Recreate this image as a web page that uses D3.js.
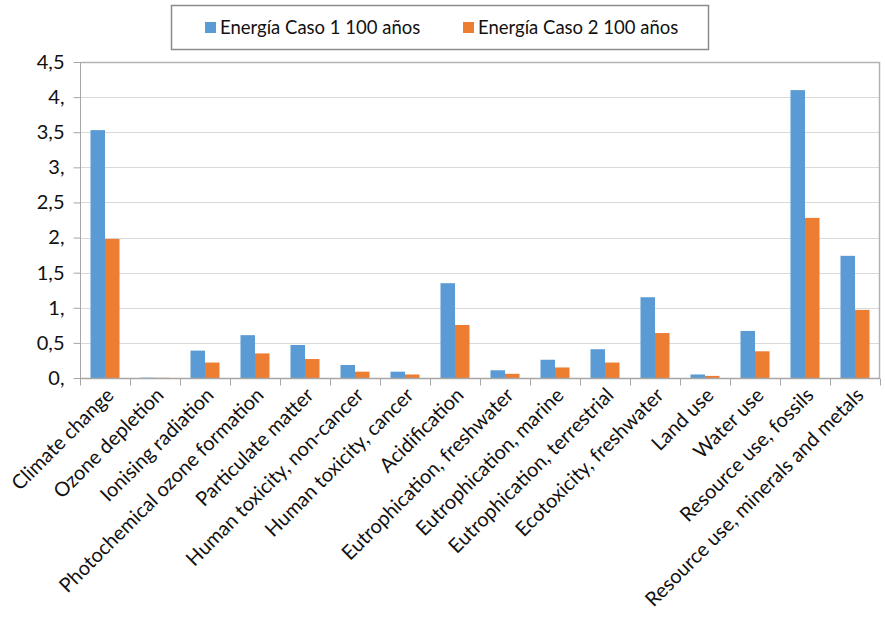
<!DOCTYPE html>
<html>
<head>
<meta charset="utf-8">
<script src="https://cdn.jsdelivr.net/npm/d3@7"></script>
<style>
  html, body { margin: 0; padding: 0; background: #fff; }
  svg { display: block; font-family: Lato, "Open Sans", sans-serif; }
</style>
</head>
<body>
<svg id="chart" width="885" height="619"></svg>
<script>
// Impact categories (x axis)
const categories = [
  "Climate change",
  "Ozone depletion",
  "Ionising radiation",
  "Photochemical ozone formation",
  "Particulate matter",
  "Human toxicity, non-cancer",
  "Human toxicity, cancer",
  "Acidification",
  "Eutrophication, freshwater",
  "Eutrophication, marine",
  "Eutrophication, terrestrial",
  "Ecotoxicity, freshwater",
  "Land use",
  "Water use",
  "Resource use, fossils",
  "Resource use, minerals and metals"
];

const seriesNames = ["Energía Caso 1 100 años", "Energía Caso 2 100 años"];

const caso1 = [3.53, 0.005, 0.39, 0.61, 0.47, 0.185, 0.09, 1.35, 0.11, 0.26, 0.41, 1.15, 0.05, 0.67, 4.10, 1.74];
const caso2 = [1.98, 0.003, 0.22, 0.35, 0.27, 0.09, 0.05, 0.755, 0.06, 0.15, 0.22, 0.64, 0.03, 0.38, 2.28, 0.97];

const yTicks = [0, 0.5, 1, 1.5, 2, 2.5, 3, 3.5, 4, 4.5];
const yTickLabels = ["0,", "0,5", "1,", "1,5", "2,", "2,5", "3,", "3,5", "4,", "4,5"];

const colors = ["#5b9bd5", "#ed7d31"];

const svg = d3.select("#chart");
const margin = { left: 80, right: 5, top: 62, bottom: 241 };
const width = 885 - margin.left - margin.right;
const height = 619 - margin.top - margin.bottom;

const g = svg.append("g").attr("transform", `translate(${margin.left},${margin.top})`);

const x0 = d3.scaleBand().domain(categories).range([0, width]).paddingInner(0.42).paddingOuter(0.21);
const x1 = d3.scaleBand().domain([0, 1]).range([0, x0.bandwidth()]);
const y = d3.scaleLinear().domain([0, 4.5]).range([height, 0]);

// Horizontal gridlines
g.append("g").selectAll("line").data(yTicks.slice(1, -1)).join("line")
  .attr("x1", 0).attr("x2", width)
  .attr("y1", d => Math.round(y(d)) + 0.5).attr("y2", d => Math.round(y(d)) + 0.5)
  .attr("stroke", "#d9d9d9").attr("stroke-width", 1);

// Plot frame (top and right edges)
g.append("path")
  .attr("d", `M0.5,${Math.round(y(4.5)) + 0.5}H${width - 0.5}V${height}`)
  .attr("fill", "none").attr("stroke", "#b3b3b3").attr("stroke-width", 1.5);

// Bars
const data = categories.map((c, i) => ({ c, v: [caso1[i], caso2[i]] }));
g.append("g").selectAll("g").data(data).join("g")
  .attr("transform", d => `translate(${x0(d.c)},0)`)
  .selectAll("rect").data(d => d.v.map((v, k) => ({ v, k }))).join("rect")
  .attr("x", d => x1(d.k))
  .attr("width", x1.bandwidth())
  .attr("y", d => y(d.v))
  .attr("height", d => y(0) - y(d.v))
  .attr("fill", d => colors[d.k]);

// Y axis
const yAxis = d3.axisLeft(y).tickValues(yTicks).tickFormat((d, i) => yTickLabels[i]).tickSize(7).tickPadding(9);
const ya = g.append("g").attr("transform", "translate(0.5,0)").call(yAxis);
ya.select(".domain").attr("stroke", "#a6a6a6").attr("d", `M0,${height}V0`);
ya.selectAll(".tick line").attr("stroke", "#a6a6a6");
ya.selectAll(".tick text").attr("fill", "#111").style("font-size", "20px")
  .style("font-family", "Lato, sans-serif");

// X axis with tick marks at category boundaries
const xa = g.append("g").attr("transform", `translate(0,${height + 0.5})`);
xa.append("line").attr("x1", 0).attr("x2", width).attr("stroke", "#a6a6a6").attr("stroke-width", 1.5);
const bounds = d3.range(categories.length + 1).map(i => i * width / categories.length);
xa.selectAll("line.tk").data(bounds).join("line").attr("class", "tk")
  .attr("x1", d => Math.round(d) + 0.5).attr("x2", d => Math.round(d) + 0.5)
  .attr("y1", 0).attr("y2", 7).attr("stroke", "#a6a6a6");

// Rotated category labels
xa.selectAll("text").data(categories).join("text")
  .attr("transform", d => `translate(${x0(d) + x0.bandwidth() / 2 + 5},${13}) rotate(-45)`)
  .attr("text-anchor", "end")
  .attr("dy", "0.35em")
  .attr("fill", "#111")
  .style("font-size", "20px")
  .text(d => d);

// Legend
const legend = svg.append("g");
legend.append("rect").attr("x", 171.5).attr("y", 5.5).attr("width", 537).attr("height", 44)
  .attr("fill", "#fff").attr("stroke", "#8c8c8c").attr("stroke-width", 1.5);
const legItems = [{ x: 205 }, { x: 463 }];
legItems.forEach((it, k) => {
  legend.append("rect").attr("x", it.x).attr("y", 22).attr("width", 11).attr("height", 11).attr("fill", colors[k]);
  legend.append("text").attr("x", it.x + 15).attr("y", 28).attr("dy", "0.35em")
    .attr("fill", "#111").style("font-size", "18.5px").text(seriesNames[k]);
});
</script>
</body>
</html>
